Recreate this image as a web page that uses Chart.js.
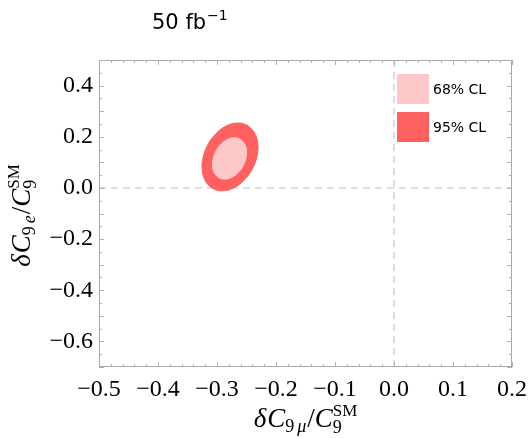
<!DOCTYPE html>
<html><head><meta charset="utf-8">
<script src="https://cdn.jsdelivr.net/npm/chart.js@4.4.0/dist/chart.umd.min.js"></script>
<style>html,body{margin:0;padding:0;background:#fff}#wrap{width:529px;height:438px}</style>
</head><body><div id="wrap"><canvas id="c" width="529" height="438"></canvas></div>
<script>
// ---- data ----
const seriesLabels = ['68% CL', '95% CL'];
const cl68X = [-0.2615,-0.2539,-0.2502,-0.2508,-0.2557,-0.2641,-0.2747,-0.2860,-0.2962,-0.3037,-0.3075,-0.3068,-0.3019,-0.2935,-0.2829,-0.2716];
const cl68Y = [0.1911,0.1746,0.1490,0.1183,0.0871,0.0602,0.0417,0.0343,0.0393,0.0559,0.0814,0.1121,0.1434,0.1702,0.1888,0.1961];
const cl95X = [-0.2495,-0.2372,-0.2310,-0.2320,-0.2400,-0.2538,-0.2713,-0.2897,-0.3064,-0.3188,-0.3249,-0.3239,-0.3159,-0.3021,-0.2847,-0.2662];
const cl95Y = [0.2455,0.2184,0.1765,0.1261,0.0750,0.0309,0.0005,-0.0115,-0.0033,0.0238,0.0657,0.1161,0.1672,0.2113,0.2416,0.2537];
const xTickLabels = [-0.5,-0.4,-0.3,-0.2,-0.1,0.0,0.1,0.2];
const yTickLabels = [-0.6,-0.4,-0.2,0.0,0.2,0.4];
const xRange = [-0.5, 0.2];
const yRange = [-0.7, 0.5];
const refX = 0, refY = 0;

const col68 = 'rgb(255,200,200)';
const col95 = 'rgb(255,97,97)';

function loop(X, Y){
  const pts = X.map((x,i)=>({x:x, y:Y[i]}));
  pts.push(pts[0], pts[1]);
  return pts;
}
function isMajor(v, list){ return list.some(t=>Math.abs(t-v)<1e-6); }
function fmt(v){ const r = Math.round(v*10)/10; return (r<0?'\u2212':'') + Math.abs(r).toFixed(1); }

function drawRich(ctx, parts, cx, cy, rot){
  ctx.save(); ctx.translate(cx, cy); ctx.rotate(rot);
  let cur = 0; const items = [];
  parts.forEach(p=>{
    ctx.font = p.f; const pw = ctx.measureText(p.t).width;
    if (p.stack){ const prev = items[items.length-1]; items.push({p:p, x:prev.x}); cur = Math.max(cur, prev.x+pw); }
    else { items.push({p:p, x:cur}); cur += pw + (p.k||0); }
  });
  ctx.fillStyle = '#000'; ctx.textBaseline = 'alphabetic'; ctx.textAlign = 'left';
  items.forEach(it=>{ ctx.font = it.p.f; ctx.fillText(it.p.t, it.x - cur/2, it.p.dy||0); });
  ctx.restore();
}

const SER = '"Liberation Serif", "DejaVu Serif", serif';
const decor = {
  id: 'decor',
  afterDraw(chart){
    const ctx = chart.ctx, a = chart.chartArea;
    const xs = chart.scales.x, ys = chart.scales.y;
    ctx.save();
    // frame
    ctx.strokeStyle = '#a8a8a8'; ctx.lineWidth = 1;
    ctx.strokeRect(Math.round(a.left)+0.5, Math.round(a.top)+0.5, Math.round(a.right-a.left)-1, Math.round(a.bottom-a.top)-1);
    // inner ticks
    ctx.beginPath();
    xs.ticks.forEach(t=>{
      const px = Math.round(xs.getPixelForValue(t.value))+0.5;
      const L = (Math.abs(t.value*10-Math.round(t.value*10))<1e-6) ? 5 : 3;
      ctx.moveTo(px, a.bottom); ctx.lineTo(px, a.bottom-L);
      ctx.moveTo(px, a.top); ctx.lineTo(px, a.top+L);
    });
    ys.ticks.forEach(t=>{
      const py = Math.round(ys.getPixelForValue(t.value))+0.5;
      const L = (Math.abs(t.value*10-Math.round(t.value*10))<1e-6) ? 5 : 3;
      ctx.moveTo(a.left, py); ctx.lineTo(a.left+L, py);
      ctx.moveTo(a.right, py); ctx.lineTo(a.right-L, py);
    });
    ctx.strokeStyle = '#b0b0b0'; ctx.stroke();
    // legend
    const ds = chart.data.datasets;
    [0,1].forEach(i=>{
      const y0 = 74 + i*38;
      ctx.fillStyle = ds[i].backgroundColor;
      ctx.fillRect(397, y0, 32, 30);
      ctx.fillStyle = '#000'; ctx.font = '14px "DejaVu Sans", sans-serif';
      ctx.textBaseline = 'middle'; ctx.textAlign = 'left';
      ctx.fillText(ds[i].label, 433, y0 + 16);
    });
    ctx.restore();
    // title
    ctx.save();
    ctx.fillStyle = '#000'; ctx.textBaseline = 'alphabetic'; ctx.textAlign = 'left';
    ctx.font = '21px "DejaVu Sans", sans-serif';
    ctx.fillText('50 fb', 152, 29);
    const w = ctx.measureText('50 fb').width;
    ctx.font = '14px "DejaVu Sans", sans-serif';
    ctx.fillText('\u22121', 152 + w + 1, 20);
    ctx.restore();
    // axis titles
    const mk = (sub)=>[
      {t:'\u03b4', f:'italic 27px '+SER, k:1},
      {t:'C', f:'italic 27px '+SER},
      {t:'9', f:'18px '+SER, dy:5, k:3},
      {t:sub, f:'italic 18px '+SER, dy:5, k:1},
      {t:'/', f:'27px '+SER},
      {t:'C', f:'italic 27px '+SER},
      {t:'9', f:'18px '+SER, dy:6},
      {t:'SM', f:'17px '+SER, dy:-11, stack:true}
    ];
    drawRich(chart.ctx, mk('\u03bc'), (a.left+a.right)/2, 427, 0);
    drawRich(chart.ctx, mk('e'), 30, (a.top+a.bottom)/2 + 2, -Math.PI/2);
  }
};

new Chart(document.getElementById('c'), {
  type: 'scatter',
  data: { datasets: [
    { label: seriesLabels[0], data: loop(cl68X, cl68Y), showLine: true, fill: 'shape', tension: 0.4,
      backgroundColor: col68, borderColor: col68, borderWidth: 1, pointRadius: 0 },
    { label: seriesLabels[1], data: loop(cl95X, cl95Y), showLine: true, fill: 'shape', tension: 0.4,
      backgroundColor: col95, borderColor: col95, borderWidth: 1, pointRadius: 0 },
    { label: 'h', data: [{x:xRange[0], y:refY},{x:xRange[1], y:refY}], showLine: true, fill: false,
      borderColor: '#cdcdcd', borderWidth: 1.3, borderDash: [7,5], pointRadius: 0 },
    { label: 'v', data: [{x:refX, y:yRange[0]},{x:refX, y:yRange[1]}], showLine: true, fill: false,
      borderColor: '#cdcdcd', borderWidth: 1.3, borderDash: [7,5], pointRadius: 0 }
  ]},
  options: {
    responsive: false, animation: false, devicePixelRatio: 1,
    layout: { padding: { left: 0, right: 17, top: 60, bottom: 0 } },
    plugins: { legend: { display: false }, tooltip: { enabled: false }, title: { display: false } },
    scales: {
      x: { type: 'linear', min: xRange[0], max: xRange[1],
        afterFit(s){ s.height = 71; s.paddingRight = 0; s.paddingLeft = 0; },
        grid: { display: false, drawTicks: false }, border: { display: false },
        ticks: { stepSize: 0.02, autoSkip: false, maxRotation: 0, padding: 8, color: '#000',
          font: { family: SER, size: 24 },
          callback: v => isMajor(v, xTickLabels) ? fmt(v) : '' } },
      y: { type: 'linear', min: yRange[0], max: yRange[1],
        afterFit(s){ s.width = 99; s.paddingTop = 0; s.paddingBottom = 0; },
        grid: { display: false, drawTicks: false }, border: { display: false },
        ticks: { stepSize: 0.05, autoSkip: false, padding: 6, color: '#000',
          font: { family: SER, size: 24 },
          callback: v => isMajor(v, yTickLabels) ? fmt(v) : '' } }
    }
  },
  plugins: [decor]
});
</script></body></html>
